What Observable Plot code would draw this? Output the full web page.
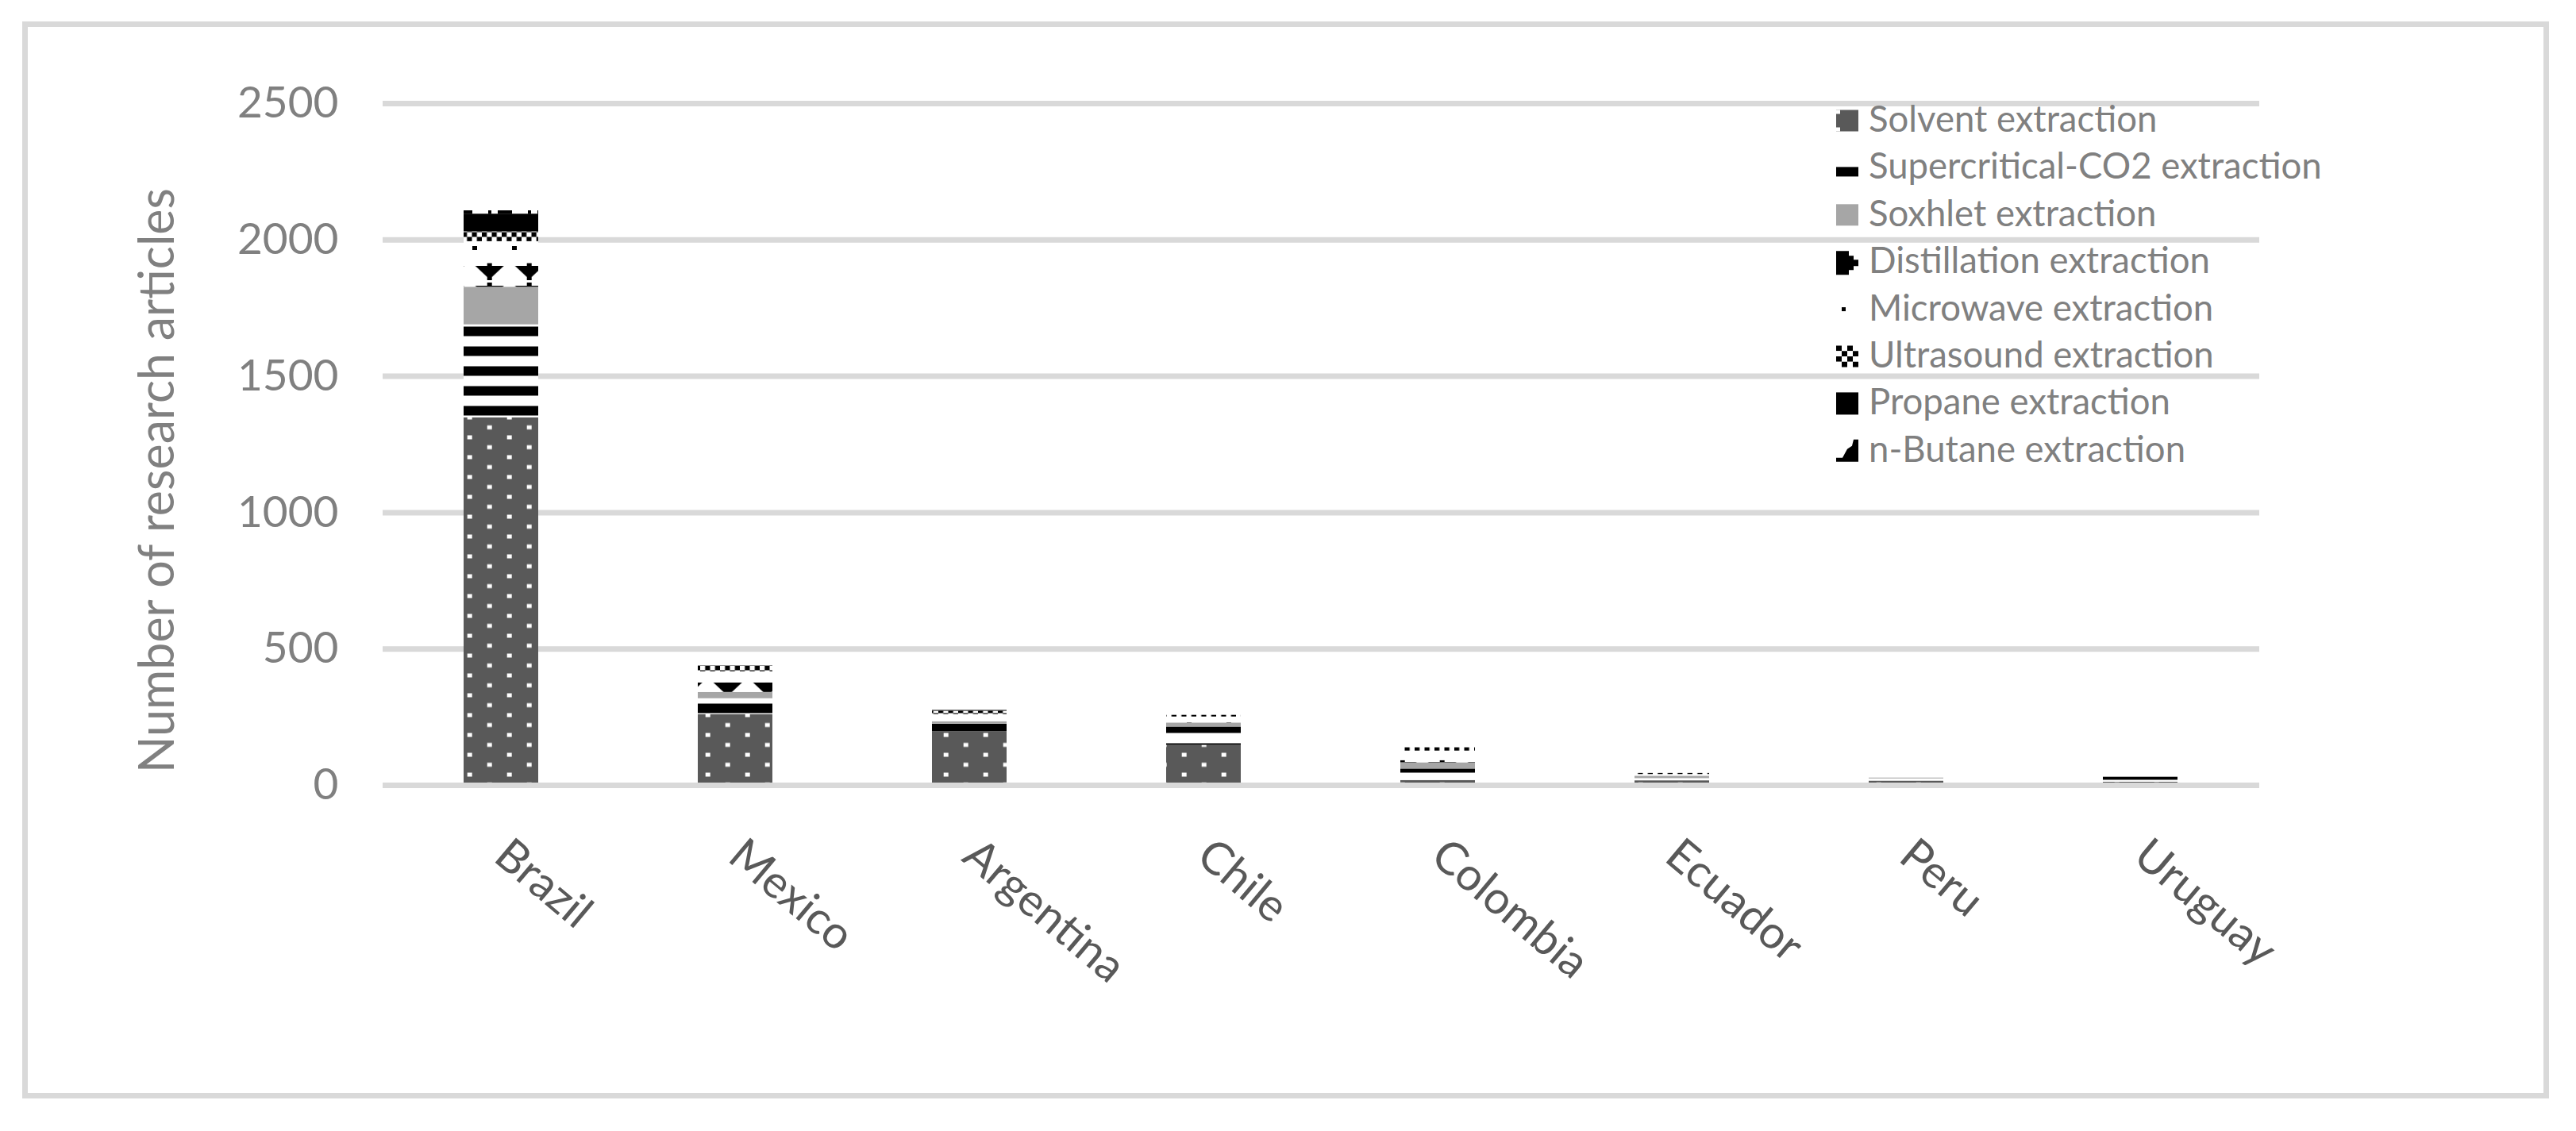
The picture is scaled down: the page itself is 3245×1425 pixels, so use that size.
<!DOCTYPE html>
<html>
<head>
<meta charset="utf-8">
<script src="https://cdn.jsdelivr.net/npm/d3@7"></script>
<script src="https://cdn.jsdelivr.net/npm/@observablehq/plot@0.6"></script>
<style>
  html, body { margin: 0; padding: 0; background: #fff; }
  #wrap { position: relative; width: 3245px; height: 1425px; overflow: hidden; }
  #frame { position: absolute; left: 28px; top: 27px; width: 3183px; height: 1357px;
           border: 7px solid #d9d9d9; box-sizing: border-box; pointer-events: none; }
</style>
</head>
<body>
<div id="wrap"><div id="chart"></div><div id="frame"></div></div>
<script>
// ---- data ----
const countries = ["Brazil", "Mexico", "Argentina", "Chile", "Colombia", "Ecuador", "Peru", "Uruguay"];
const methods = ["Solvent extraction", "Supercritical-CO2 extraction", "Soxhlet extraction",
  "Distillation extraction", "Microwave extraction", "Ultrasound extraction",
  "Propane extraction", "n-Butane extraction"];
const solvent      = [1348, 260, 197, 147, 18, 17, 16, 12];
const supercritical= [341,   58,  28,  67, 42,  8,  8,  7];
const soxhlet      = [138,   23,   9,  15, 23,  9,  3,  0];
const distillation = [87,    35,   0,   0,  8,  0,  0,  0];
const microwave    = [80,    41,  26,  22, 35,  6,  0,  0];
const ultrasound   = [36,    22,  12,   6, 12,  4,  0,  0];
const propane      = [65,     0,   3,   0,  0,  0,  0, 11];
const nbutane      = [12,     0,   0,   0,  0,  0,  0,  0];
const yTicks = [0, 500, 1000, 1500, 2000, 2500];
const yTitle = "Number of research articles";

const series = [solvent, supercritical, soxhlet, distillation, microwave, ultrasound, propane, nbutane];
const table = [];
methods.forEach((m, j) => countries.forEach((c, i) => table.push({country: c, method: m, value: series[j][i]})));

const fills = ["url(#pSolvent)", "url(#pCO2)", "#a6a6a6", "url(#pDist)", "url(#pMicro)",
               "url(#pUltra)", "#000000", "url(#pButane)"];

const grid = "#d9d9d9";
const svg = Plot.plot({
  width: 3245,
  height: 1425,
  marginLeft: 482,
  marginRight: 399,
  marginTop: 130,
  marginBottom: 436,
  style: {fontFamily: "Lato, sans-serif", background: "#fff", maxWidth: "none", overflow: "visible"},
  x: {domain: countries, paddingInner: 0.68, paddingOuter: 0.34, axis: null},
  y: {domain: [0, 2500]},
  color: {domain: methods, range: fills},
  marks: [
    Plot.ruleY(yTicks.filter(d => d > 0), {stroke: grid, strokeWidth: 7}),
    Plot.barY(table, {x: "country", y: "value", fill: "method"}),
    Plot.ruleY([0], {stroke: grid, strokeWidth: 7}),
    Plot.axisY({ticks: yTicks, tickSize: 0, tickPadding: 56, fontSize: 55, color: "#808080", label: null, tickFormat: d => String(d)}),
    Plot.text(countries, {x: d => d, text: d => d, frameAnchor: "bottom", dy: 80, rotate: 40,
      textAnchor: "start", lineAnchor: "middle", fontSize: 57, fill: "#595959"}),
    Plot.text([yTitle], {text: d => d, frameAnchor: "left", dx: -283, dy: 45.5, rotate: -90,
      textAnchor: "middle", lineAnchor: "middle", fontSize: 61, fill: "#808080"})
  ]
});

// ---- patterns (fill styles) ----
const s = d3.select(svg);
const defs = s.insert("defs", ":first-child");
function pat(id, x, y, w, h, bg) {
  const p = defs.append("pattern").attr("id", id).attr("patternUnits", "userSpaceOnUse")
    .attr("x", x).attr("y", y).attr("width", w).attr("height", h);
  p.append("rect").attr("width", w).attr("height", h).attr("fill", bg);
  return p;
}
let p = pat("pSolvent", 38.7, 23.5, 50, 25, "#595959");
p.append("rect").attr("x", 0).attr("y", 0).attr("width", 6).attr("height", 5).attr("fill", "#fff");
p.append("rect").attr("x", 25).attr("y", 12.5).attr("width", 6).attr("height", 5).attr("fill", "#fff");

p = pat("pCO2", 0, 11.5, 10, 25, "#fff");
p.append("rect").attr("x", 0).attr("y", 0).attr("width", 10).attr("height", 12).attr("fill", "#000");

p = pat("pDist", -8.3, 10, 50, 25, "#fff");
p.append("polygon").attr("points", "7,0 43,0 28,14 28,18 22,18 22,14").attr("fill", "#000");
p.append("rect").attr("x", 22).attr("y", 21).attr("width", 6).attr("height", 4).attr("fill", "#000");

p = pat("pMicro", 595, 310, 50, 25, "#fff");
p.append("rect").attr("x", 0).attr("y", 0).attr("width", 6).attr("height", 5).attr("fill", "#000");

p = pat("pUltra", 582, 292.5, 12.5, 12, "#fff");
p.append("rect").attr("x", 0).attr("y", 0).attr("width", 6.25).attr("height", 6).attr("fill", "#000");
p.append("rect").attr("x", 6.25).attr("y", 6).attr("width", 6.25).attr("height", 6).attr("fill", "#000");

p = pat("pButane", 627, 0, 50, 25, "#fff");
p.append("rect").attr("x", 0).attr("y", 0).attr("width", 18).attr("height", 25).attr("fill", "#000");
p.append("rect").attr("x", 38).attr("y", 0).attr("width", 4).attr("height", 25).attr("fill", "#000");

// ---- legend ----
const lg = s.append("g").attr("class", "legend");
const lx = 2313, c0 = 152, step = 59.4;
methods.forEach((m, i) => {
  const c = c0 + step * i;
  const g = lg.append("g").attr("transform", `translate(${lx},${c})`);
  if (i === 0) {
    g.append("rect").attr("x", 0).attr("y", -13.5).attr("width", 28).attr("height", 27).attr("fill", "#595959");
    g.append("rect").attr("x", 0).attr("y", -13.5).attr("width", 5).attr("height", 5).attr("fill", "#fff");
    g.append("rect").attr("x", 0).attr("y", 8.5).attr("width", 5).attr("height", 5).attr("fill", "#fff");
  } else if (i === 1) {
    g.append("rect").attr("x", 0).attr("y", -1).attr("width", 28).attr("height", 12).attr("fill", "#000");
  } else if (i === 2) {
    g.append("rect").attr("x", 0).attr("y", -13.5).attr("width", 28).attr("height", 27).attr("fill", "#a6a6a6");
  } else if (i === 3) {
    g.append("polygon").attr("points", "0,-14 16,-14 16,-8 22,-8 22,-3 28,-3 28,5 22,5 22,10 16,10 16,16 0,16").attr("fill", "#000");
  } else if (i === 4) {
    g.append("rect").attr("x", 7).attr("y", -2.5).attr("width", 5).attr("height", 5).attr("fill", "#000");
  } else if (i === 5) {
    for (let r = 0; r < 4; r++) for (let k = 0; k < 4; k++) {
      g.append("rect").attr("x", k * 7).attr("y", -13.5 + r * 6.75).attr("width", 7).attr("height", 6.75)
        .attr("fill", (r + k) % 2 === 0 ? "#000" : "#fff");
    }
  } else if (i === 6) {
    g.append("rect").attr("x", 0).attr("y", -14).attr("width", 28).attr("height", 28).attr("fill", "#000");
  } else {
    g.append("polygon").attr("points", "22,-14 28,-14 28,14 0,14 0,9 8,9 14,-2 20,-6").attr("fill", "#000");
  }
  lg.append("text").attr("x", 2354).attr("y", c + 14)
    .attr("text-anchor", "start")
    .attr("font-size", 45.5).attr("fill", "#808080").attr("font-family", "Lato, sans-serif").text(m);
});

document.getElementById("chart").appendChild(svg);
</script>
</body>
</html>
